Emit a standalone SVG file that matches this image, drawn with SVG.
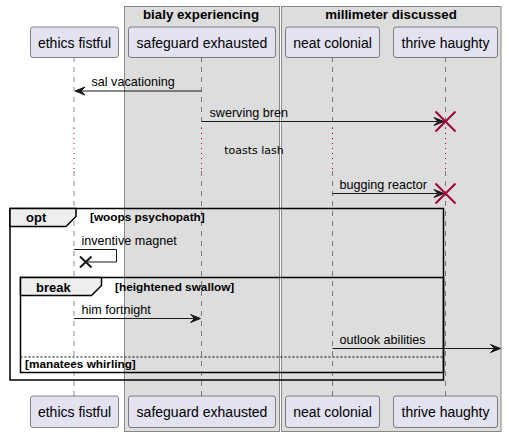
<svg xmlns="http://www.w3.org/2000/svg" width="506" height="437" viewBox="0 0 506 437">
<defs>
<style>
.box{fill:#DDDDDD;stroke:#888888;stroke-width:1}
.btitle{font-family:"Liberation Sans",Arial,sans-serif;font-size:13.3px;font-weight:bold;fill:#000;text-anchor:middle}
.part{fill:#E2E2F0;stroke:#181818;stroke-width:0.5}
.ptext{font-family:"Liberation Sans",Arial,sans-serif;font-size:14px;fill:#000;text-anchor:middle}
.life{stroke:#181818;stroke-width:0.5;stroke-dasharray:5,5;fill:none}
.delay{stroke:#A80036;stroke-width:1;stroke-dasharray:1,4;fill:none}
.msg{stroke:#181818;stroke-width:1;fill:none}
.mtext{font-family:"Liberation Sans",Arial,sans-serif;font-size:12.6px;fill:#000}
.head{fill:#181818;stroke:#181818;stroke-width:1}
.destroy{stroke:#A80036;stroke-width:2;fill:none}
.frame{fill:none;stroke:#000;stroke-width:1.5}
.tab{fill:#EEEEEE;stroke:#000;stroke-width:1.5}
.ftitle{font-family:"Liberation Sans",Arial,sans-serif;font-size:13px;font-weight:bold;fill:#000}
.fcond{font-family:"Liberation Sans",Arial,sans-serif;font-size:11.8px;font-weight:bold;fill:#000}
.dtext{font-family:"DejaVu Sans",sans-serif;font-size:11px;fill:#000;text-anchor:middle}
</style>
</defs>
<rect width="506" height="437" fill="#FFFFFF"/>
<g id="box-bialy">
<rect class="box" x="124.5" y="6.5" width="155" height="425"/>
<text class="btitle" x="201" y="19">bialy experiencing</text>
</g>
<g id="box-millimeter">
<rect class="box" x="281.5" y="6.5" width="219.5" height="425"/>
<text class="btitle" x="391" y="19">millimeter discussed</text>
</g>
<g id="lifelines">
<path class="life" d="M74,57 V128 M74,171 V396"/>
<path class="life" d="M201.5,57 V128 M201.5,171 V396"/>
<path class="life" d="M332.5,57 V128 M332.5,171 V396"/>
<path class="life" d="M445.5,57 V128 M445.5,171 V396"/>
<path class="delay" d="M74,128 V171 M201.5,128 V171 M332.5,128 V171 M445.5,128 V171"/>
<text class="dtext" x="254" y="154">toasts lash</text>
</g>
<g id="p-ethics">
<rect class="part" x="30.5" y="27" width="88" height="30.5" rx="2.5"/>
<text class="ptext" x="74.5" y="48">ethics fistful</text>
<rect class="part" x="30.5" y="396" width="88" height="31.5" rx="2.5"/>
<text class="ptext" x="74.5" y="417">ethics fistful</text>
</g>
<g id="p-safeguard">
<rect class="part" x="128.5" y="27" width="147" height="30.5" rx="2.5"/>
<text class="ptext" x="202" y="48">safeguard exhausted</text>
<rect class="part" x="128.5" y="396" width="147" height="31.5" rx="2.5"/>
<text class="ptext" x="202" y="417">safeguard exhausted</text>
</g>
<g id="p-neat">
<rect class="part" x="285.5" y="27" width="94" height="30.5" rx="2.5"/>
<text class="ptext" x="332.5" y="48">neat colonial</text>
<rect class="part" x="285.5" y="396" width="94" height="31.5" rx="2.5"/>
<text class="ptext" x="332.5" y="417">neat colonial</text>
</g>
<g id="p-thrive">
<rect class="part" x="393.5" y="27" width="104" height="30.5" rx="2.5"/>
<text class="ptext" x="445.5" y="48">thrive haughty</text>
<rect class="part" x="393.5" y="396" width="104" height="31.5" rx="2.5"/>
<text class="ptext" x="445.5" y="417">thrive haughty</text>
</g>
<g id="frames">
<rect class="frame" x="10" y="208.5" width="433.5" height="171.5"/>
<path class="tab" d="M10,208.5 H76 V216.5 L66,226.5 H10 Z"/>
<text class="ftitle" x="26" y="222">opt</text>
<text class="fcond" x="90" y="221">[woops psychopath]</text>
<rect class="frame" x="20.5" y="277.5" width="423" height="95"/>
<path class="tab" d="M20.5,277.5 H101.5 V285.5 L91.5,295.5 H20.5 Z"/>
<text class="ftitle" x="36" y="291.5">break</text>
<text class="fcond" x="115" y="291">[heightened swallow]</text>
<line x1="20.5" y1="357" x2="443.5" y2="357" stroke="#000" stroke-width="1" stroke-dasharray="2,2"/>
<text class="fcond" x="25" y="368">[manatees whirling]</text>
</g>
<g id="connectors">
<line class="msg" x1="201.5" y1="91" x2="76" y2="91"/>
<polygon class="head" points="75,91 85,87 81,91 85,95"/>
<text class="mtext" x="91.5" y="86">sal vacationing</text>
<line class="msg" x1="201.5" y1="121.5" x2="443" y2="121.5"/>
<polygon class="head" points="444,121.5 434,117.5 438,121.5 434,125.5"/>
<text class="mtext" x="209.5" y="117">swerving bren</text>
<path class="destroy" d="M435.5,111.5 L455.5,131.5 M455.5,111.5 L435.5,131.5"/>
<line class="msg" x1="332.5" y1="193.5" x2="443" y2="193.5"/>
<polygon class="head" points="444,193.5 434,189.5 438,193.5 434,197.5"/>
<text class="mtext" x="339.5" y="189">bugging reactor</text>
<path class="destroy" d="M435.5,183.5 L455.5,203.5 M455.5,183.5 L435.5,203.5"/>
<path class="msg" d="M74,249.5 H116.5 V262 H86"/>
<path d="M80,256.5 L91.5,267.5 M91.5,256.5 L80,267.5" stroke="#181818" stroke-width="2" fill="none"/>
<text class="mtext" x="81.5" y="245">inventive magnet</text>
<line class="msg" x1="74" y1="318.5" x2="199" y2="318.5"/>
<polygon class="head" points="200.5,318.5 190.5,314.5 194.5,318.5 190.5,322.5"/>
<text class="mtext" x="81.5" y="314">him fortnight</text>
<line class="msg" x1="332.5" y1="348.5" x2="499" y2="348.5"/>
<polygon class="head" points="500.5,348.5 490.5,344.5 494.5,348.5 490.5,352.5"/>
<text class="mtext" x="339.5" y="344">outlook abilities</text>
</g>
</svg>
